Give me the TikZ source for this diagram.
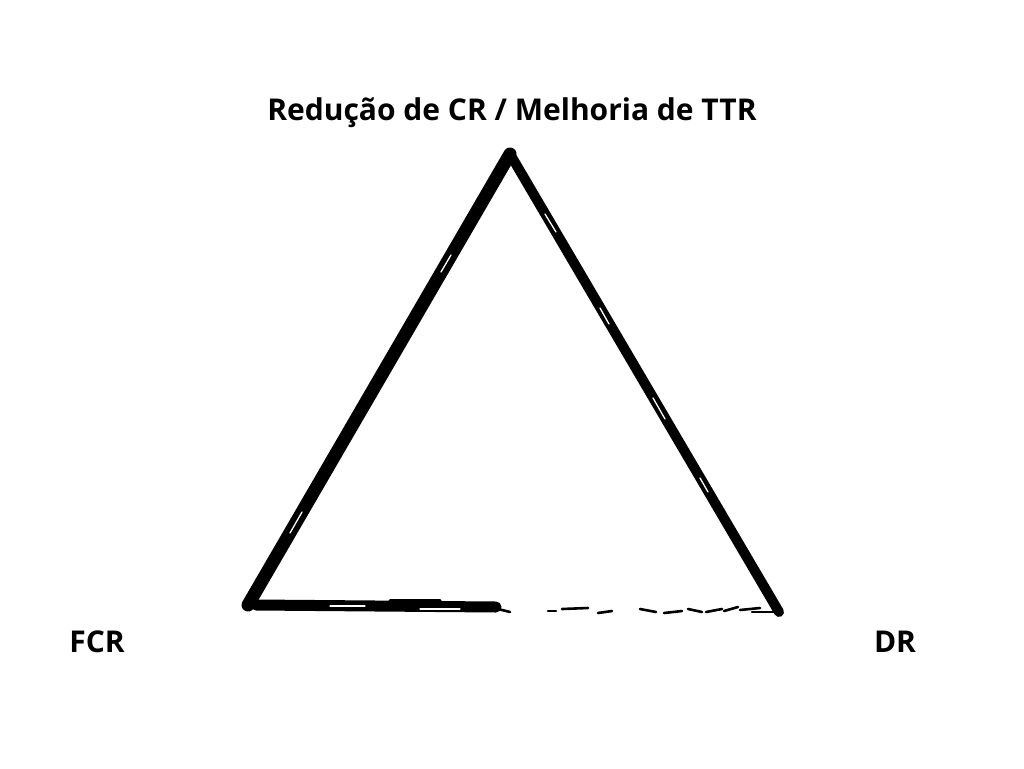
\documentclass[tikz,border=0pt]{standalone}
\usepackage{fontspec}
\setmainfont{Open Sans}
\usetikzlibrary{calc}
\begin{document}
\begin{tikzpicture}[x=1pt,y=-1pt,
  lbl/.style={font=\bfseries\fontsize{30}{34}\selectfont, text=black, inner sep=0pt},
  brush/.style={draw=black, line cap=round, line join=miter},
  streak/.style={draw=white, line width=1.3pt, line cap=round},
  grit/.style={draw=black, line width=2.6pt, line cap=round}]
\useasboundingbox (0,0) rectangle (1024,768);
\coordinate (T) at (510,154);
\coordinate (L) at (248,605);
\coordinate (R) at (779,612);
\coordinate (M) at (496,607);
\node[lbl] (top) at (512,113) {Redução de CR / Melhoria de TTR};
\node[lbl] (fcr) at (97,642) {FCR};
\node[lbl] (dr) at (895,642) {DR};
% left side
\draw[brush, line width=13pt] (L) -- (T);
% right side
\draw[brush, line width=10pt] (T) -- (R);
% bottom left solid
\draw[brush, line width=11pt] ($(L)+(8,0)$) -- (M);
% rough edges
\draw[brush, line width=3pt] (262,575) -- (253,592);
\draw[brush, line width=3pt] (422,300) -- (413,316);
\draw[brush, line width=3pt] (359,410) -- (350,425);
\draw[brush, line width=3pt] (547,213) -- (560,235);
\draw[brush, line width=3pt] (645,380) -- (655,397);
\draw[brush, line width=3pt] (390,600) -- (440,600);
% white streaks for brush texture
\draw[streak] (302,512) -- (290,533);
\draw[streak] (451,255) -- (441,272);
\draw[streak] (545,214) -- (556,232);
\draw[streak] (653,398) -- (665,419);
\draw[streak] (600,308) -- (609,324);
\draw[streak] (700,478) -- (708,492);
\draw[streak] (330,606) -- (365,606);
\draw[streak] (420,609) -- (460,609);
% bottom right broken strokes
\draw[grit] (498,609) -- (510,612);
\draw[grit] (548,611) -- (556,611);
\draw[grit] (562,609) -- (588,608);
\draw[grit] (598,613) -- (612,611);
\draw[grit] (640,609) -- (656,612);
\draw[grit] (664,613) -- (682,611);
\draw[grit] (688,609) -- (702,612);
\draw[grit] (706,612) -- (722,609);
\draw[grit] (724,611) -- (738,607);
\draw[grit] (740,610) -- (760,608);
\draw[grit] (752,612) -- (R);
\end{tikzpicture}
\end{document}
